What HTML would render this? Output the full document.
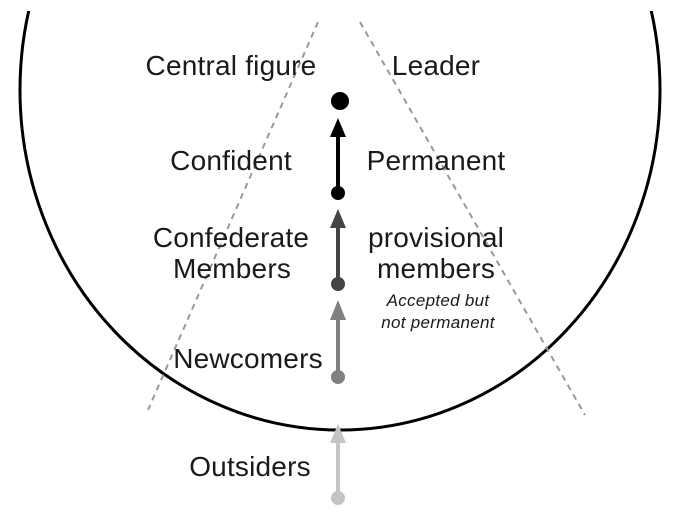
<!DOCTYPE html>
<html><head><meta charset="utf-8"><style>
html,body{margin:0;padding:0;background:#fff;}
svg{display:block;}
text{font-family:"Liberation Sans",sans-serif;fill:#1a1a1a;}
</style></head><body>
<svg width="680" height="522" viewBox="0 0 680 522" xmlns="http://www.w3.org/2000/svg">
<ellipse cx="340" cy="90" rx="320" ry="340" fill="none" stroke="#000" stroke-width="3"/>
<rect x="0" y="0" width="680" height="11" fill="#fff"/>
<line x1="318" y1="22" x2="148" y2="410" stroke="#999" stroke-width="2" stroke-dasharray="6,5"/>
<line x1="360" y1="22" x2="585" y2="415" stroke="#999" stroke-width="2" stroke-dasharray="6,5"/>
<circle cx="340" cy="101" r="9" fill="#000"/>
<g fill="#000" stroke="#000"><line x1="338" y1="193" x2="338" y2="135" stroke-width="4"/><polygon points="338,118 330,137 346,137" stroke="none"/><circle cx="338" cy="193" r="7" stroke="none"/></g>
<g fill="#444" stroke="#444"><line x1="338" y1="284" x2="338" y2="225" stroke-width="4"/><polygon points="338,209 330,228 346,228" stroke="none"/><circle cx="338" cy="284" r="7" stroke="none"/></g>
<g fill="#808080" stroke="#808080"><line x1="338" y1="377" x2="338" y2="316" stroke-width="4"/><polygon points="338,300 330,320 346,320" stroke="none"/><circle cx="338" cy="377" r="7" stroke="none"/></g>
<g fill="#c4c4c4" stroke="#c4c4c4"><line x1="338" y1="498" x2="338" y2="440" stroke-width="4"/><polygon points="338,424 330,443 346,443" stroke="none"/><circle cx="338" cy="498" r="7" stroke="none"/></g>
<g font-size="28" letter-spacing="0.2">
<text x="231" y="75" text-anchor="middle">Central figure</text>
<text x="436" y="75" text-anchor="middle">Leader</text>
<text x="231" y="170" text-anchor="middle">Confident</text>
<text x="436" y="170" text-anchor="middle">Permanent</text>
<text x="231" y="247" text-anchor="middle">Confederate</text>
<text x="232" y="278" text-anchor="middle">Members</text>
<text x="436" y="247" text-anchor="middle">provisional</text>
<text x="436" y="278" text-anchor="middle">members</text>
<text x="248" y="368" text-anchor="middle">Newcomers</text>
<text x="250" y="476" text-anchor="middle">Outsiders</text>
</g>
<g font-size="17" font-style="italic" letter-spacing="0.3">
<text x="438" y="306" text-anchor="middle">Accepted but</text>
<text x="438" y="328" text-anchor="middle">not permanent</text>
</g>
</svg>
</body></html>
